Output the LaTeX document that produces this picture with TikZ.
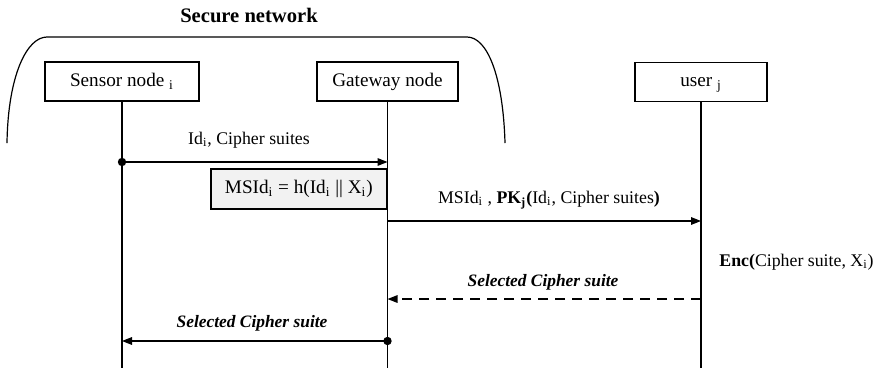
\documentclass[tikz,border=0pt]{standalone}
\usepackage{fontspec}
\setmainfont{Liberation Serif}
\usetikzlibrary{arrows.meta}
\newcommand\sbs[1]{\textsubscript{#1}}
\tikzset{
  actor/.style={draw, line width=0.6pt, minimum height=19.5pt, inner sep=0pt, text height=6.8pt, text depth=1.9pt, font=\fontsize{9.6}{11}\selectfont},
  lifeline/.style={line width=0.6pt},
  msg/.style={line width=0.6pt, -{Triangle[length=5pt,width=3.8pt]}},
  dmsg/.style={msg, dash pattern=on 5pt off 3.5pt},
  lbl/.style={inner sep=0pt, font=\fontsize{8.9}{10.5}\selectfont},
  sel/.style={inner sep=0pt, font=\fontsize{8.7}{10.5}\selectfont\bfseries\itshape},
  dotc/.style={circle, fill, inner sep=0pt, minimum size=4.2pt},
  calc/.style={draw, line width=0.6pt, fill=black!5, minimum width=88pt, minimum height=20pt, inner sep=0pt, text height=6.8pt, text depth=1.9pt, font=\fontsize{9.6}{11}\selectfont}
}
\begin{document}
\begin{tikzpicture}[x=0.5pt,y=-0.5pt]
\useasboundingbox (0,0) rectangle (886,372);
% title and bracket
\node[inner sep=0pt, font=\fontsize{10.3}{12}\selectfont\bfseries] (title) at (249,15) {Secure network};
\draw[line width=0.6pt] (7,143) .. controls (8,75) and (27,37) .. (47,37) -- (467,37) .. controls (487,37) and (503,75) .. (505,143);
% actors
\node[actor, minimum width=77pt] (s) at (122,81.5) {Sensor node \sbs{i}};
\node[actor, minimum width=70.5pt] (g) at (387.5,81.5) {Gateway node};
\node[actor, minimum width=66pt] (u) at (701,82) {user \sbs{j}};
% lifeline ends
\coordinate (sb) at (s.south |- 0,368);
\coordinate (gb) at (g.south |- 0,368);
\coordinate (ub) at (u.south |- 0,368);
\draw[lifeline] (s.south) -- (sb);
\draw[lifeline] (g.south) -- (gb);
\draw[lifeline] (u.south) -- (ub);
% message points
\coordinate (s1) at (s.south |- 0,162);
\coordinate (g1) at (g.south |- 0,162);
\coordinate (g2) at (g.south |- 0,221);
\coordinate (u2) at (u.south |- 0,221);
\coordinate (u3) at (u.south |- 0,299);
\coordinate (g3) at (g.south |- 0,299);
\coordinate (g4) at (g.south |- 0,341);
\coordinate (s4) at (s.south |- 0,341);
% message 1
\node[dotc] (d1) at (s1) {};
\draw[msg] (d1.center) -- (g1);
\node[lbl] (l1) at (249,140) {Id\sbs{i}, Cipher suites};
% computation box
\node[calc, anchor=east] (c) at (387.5,189) {MSId\sbs{i} = h(Id\sbs{i} || X\sbs{i})};
% message 2
\draw[msg] (g2) -- (u2);
\node[lbl] (l2) at (549,200) {MSId\sbs{i} , \textbf{PK\sbs{j}(}Id\sbs{i}, Cipher suites\textbf{)}};
% enc text
\node[lbl, anchor=west] (enc) at (719,262) {\textbf{Enc(}Cipher suite, X\sbs{i})};
% message 3 dashed
\draw[dmsg] (u3) -- (g3);
\node[sel] (l3) at (543,282) {Selected Cipher suite};
% message 4
\node[dotc] (d4) at (g4) {};
\draw[msg] (d4.center) -- (s4);
\node[sel] (l4) at (252,323) {Selected Cipher suite};
\end{tikzpicture}
\end{document}
